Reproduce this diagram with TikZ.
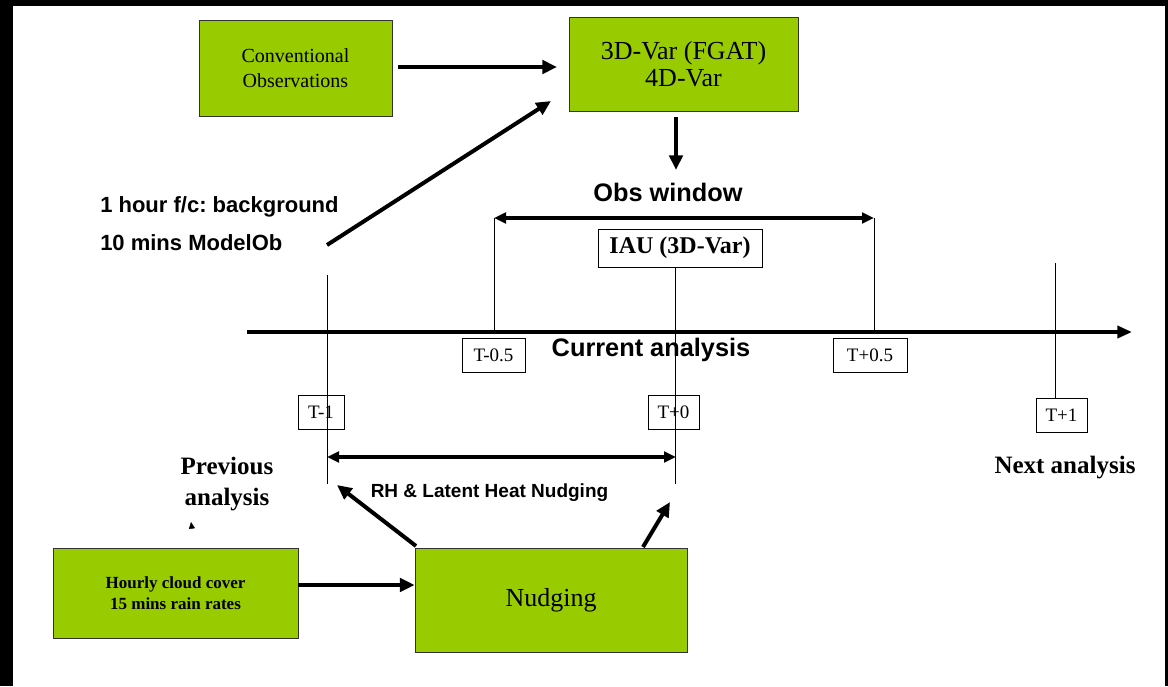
\documentclass[tikz,border=0pt]{standalone}
\usepackage{fontspec}
\setmainfont{Liberation Serif}
\setsansfont{Liberation Sans}
\usetikzlibrary{arrows.meta,calc}
\definecolor{boxgreen}{HTML}{99CC00}
\frenchspacing
\begin{document}
\begin{tikzpicture}[x=0.75pt,y=-0.75pt,
  greenbox/.style={draw=black!80, line width=0.6pt, fill=boxgreen, inner sep=0pt, align=center},
  tickbox/.style={draw=black, line width=0.6pt, fill=white, inner sep=0pt, font=\fontsize{14.25}{16}\selectfont},
  bigarrow/.style={line width=3pt, -{Triangle[length=11pt,width=10pt]}},
  dblarrow/.style={line width=2.4pt, {Triangle[length=9pt,width=8pt]}-{Triangle[length=9pt,width=8pt]}},
  thinline/.style={line width=0.75pt},
  sanslabel/.style={font=\sffamily\bfseries\fontsize{19}{22}\selectfont, inner sep=0pt},
  seriflabel/.style={font=\bfseries\fontsize{18.75}{23}\selectfont, inner sep=0pt, align=center}
]
\useasboundingbox (0,0) rectangle (1168,686);
\fill[white] (0,0) rectangle (1168,686);
\fill[black] (0,0) rectangle (1168,6);
\fill[black] (0,0) rectangle (13,686);
\fill[black] (1165,0) rectangle (1168,686);

% green boxes
\node[greenbox, minimum width=144.75pt, minimum height=72pt,
  font=\fontsize{15}{18.75}\selectfont] (conv) at (295.5,68) {Conventional\\Observations};
\node[greenbox, minimum width=171.75pt, minimum height=70.5pt,
  font=\fontsize{19.5}{20.5}\selectfont] (var) at (683.5,64) {3D-Var (FGAT)\\4D-Var};
\node[greenbox, minimum width=183.75pt, minimum height=67.5pt,
  font=\bfseries\fontsize{12.75}{15.75}\selectfont] (hourly) at (175.5,593) {Hourly cloud cover\\15 mins rain rates};
\node[greenbox, minimum width=204pt, minimum height=78pt,
  font=\fontsize{19.5}{21}\selectfont] (nudge) at (551,600) {Nudging};

% IAU box and tick boxes
\node[draw=black, line width=0.6pt, fill=white, inner sep=0pt, minimum width=123pt, minimum height=28.5pt,
  font=\bfseries\fontsize{18}{20}\selectfont] (iau) at (680,248) {IAU (3D-Var)};
\node[tickbox, minimum width=47.25pt, minimum height=25.5pt] (tm05) at (493.5,355) {T-0.5};
\node[tickbox, minimum width=55.5pt, minimum height=25.5pt] (tp05) at (870,355) {T+0.5};
\node[tickbox, minimum width=34.5pt, minimum height=25.5pt] (tm1) at (321,412) {T-1};
\node[tickbox, minimum width=38.25pt, minimum height=25.5pt] (t0) at (673.5,412) {T+0};
\node[tickbox, minimum width=38.25pt, minimum height=25.5pt] (tp1) at (1061.5,415) {T+1};

% text labels
\node[sanslabel] (obs) at (668,192) {Obs window};
\node[sanslabel] (cur) at (651,350) {Current analysis};
\node[sanslabel, font=\sffamily\bfseries\fontsize{16.5}{20}\selectfont, anchor=west] (bg) at (100,207) {1 hour f/c: background};
\node[sanslabel, font=\sffamily\bfseries\fontsize{16.5}{20}\selectfont, anchor=west] (mob) at (100,243) {10 mins ModelOb};
\node[sanslabel, font=\sffamily\bfseries\fontsize{14.25}{17}\selectfont] (rh) at (489.5,493) {RH \& Latent Heat Nudging};
\node[seriflabel] (prev) at (227,484) {Previous\\analysis};
\node[seriflabel] (next) at (1065,468) {Next analysis};

% coordinates
\coordinate (axisL) at (247,332);
\coordinate (axisR) at (1132,332);
\coordinate (lm1top) at (327,275);
\coordinate (lm1bot) at (327,484);
\coordinate (lm05top) at (494,218);
\coordinate (lm05bot) at (494,332);
\coordinate (l0top) at ($(iau.south)+(-5,0)$);
\coordinate (l0bot) at (675,484);
\coordinate (lp05top) at (874,218);
\coordinate (lp05bot) at (874,332);
\coordinate (lp1top) at (1055,263);
\coordinate (lp1bot) at (1055,398);
\coordinate (mobtail) at (327,245);
\coordinate (vartip) at (551,101);
\coordinate (convtail) at (398,67);
\coordinate (convtip) at (557,67);
\coordinate (downtail) at (676,117);
\coordinate (downtip) at (676,170);
\coordinate (nltail) at (416,546);
\coordinate (nltip) at (337,485);
\coordinate (nrtail) at (643,547);
\coordinate (nrtip) at (670,502);
\coordinate (htail) at ($(hourly.east)+(0,-8)$);
\coordinate (htip) at (nudge.west |- htail);
\coordinate (stray1) at (192,529);
\coordinate (stray2) at (191,522);

% thin vertical lines
\draw[thinline] (lm1top) -- (lm1bot);
\draw[thinline] (lm05top) -- (lm05bot);
\draw[thinline] (l0top) -- (l0bot);
\draw[thinline] (lp05top) -- (lp05bot);
\draw[thinline] (lp1top) -- (lp1bot);

% time axis
\draw[line width=3.5pt, -{Triangle[length=11pt,width=9pt]}] (axisL) -- (axisR);

% double arrows
\draw[dblarrow] (lm05top) -- (lp05top);
\draw[dblarrow] (327,457) -- (676,457);

% arrows
\draw[bigarrow] (convtail) -- (convtip);
\draw[bigarrow] (mobtail) -- (vartip);
\draw[bigarrow] (downtail) -- (downtip);
\draw[bigarrow] (nltail) -- (nltip);
\draw[bigarrow] (nrtail) -- (nrtip);
\draw[bigarrow] (htail) -- (htip);
\draw[line width=0.3pt, -{Triangle[length=5pt,width=4.5pt]}] (stray1) -- (stray2);
\end{tikzpicture}
\end{document}
